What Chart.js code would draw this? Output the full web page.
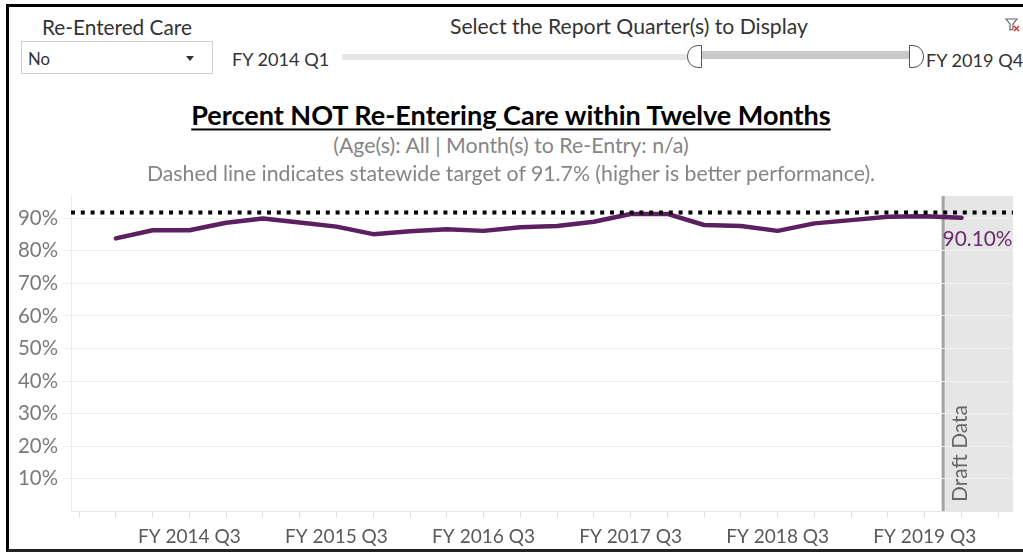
<!DOCTYPE html>
<html>
<head>
<meta charset="utf-8">
<script src="https://cdn.jsdelivr.net/npm/chart.js@4.4.0/dist/chart.umd.min.js"></script>
<style>
  body { margin: 0; width: 1023px; height: 552px; overflow: hidden; background: #fff; position: relative; font-family: Lato, sans-serif; }
  .abs { position: absolute; white-space: nowrap; line-height: 1; }
  #frame { position: absolute; left: 6px; top: 4px; width: 1100px; height: 542px; border-left: 3px solid #000; border-top: 3px solid #000; border-bottom: 3px solid #222; }
  #dropdown { position: absolute; left: 21px; top: 41px; width: 190px; height: 31px; border: 1px solid #cfcfcf; background: #fff; }
  #arrow { position: absolute; left: 186px; top: 56px; width: 0; height: 0; border-left: 4px solid transparent; border-right: 4px solid transparent; border-top: 5px solid #333; }
  #trackLight { position: absolute; left: 342px; top: 54px; width: 350px; height: 6px; background: #e6e6e6; }
  #trackDark { position: absolute; left: 700px; top: 51px; width: 212px; height: 8px; background: #c9c9c9; }
  .handle { position: absolute; top: 45px; width: 13px; height: 21px; border: 1.5px solid #555; background: #fff; }
  #handleL { left: 687px; border-radius: 11px 0 0 11px; }
  #handleR { left: 909px; border-radius: 0 11px 11px 0; }
  #chart { position: absolute; left: 0; top: 186px; }
</style>
</head>
<body>
<div id="frame"></div>
<div id="dropdown"></div>
<div id="arrow"></div>
<div id="trackLight"></div>
<div id="trackDark"></div>
<div class="handle" id="handleL"></div>
<div class="handle" id="handleR"></div>
<svg style="position:absolute;left:1005px;top:17px" width="16" height="16" viewBox="0 0 16 16">
  <path d="M1 2 H12 L8 7 V12 L5 13 V7 Z" fill="none" stroke="#666" stroke-width="1.2"/>
  <path d="M9 9 L14 14 M14 9 L9 14" stroke="#d33" stroke-width="1.5"/>
</svg>
<canvas id="chart" width="1023" height="366"></canvas>
<script>
const quarterLabels = [
  'FY 2014 Q1', 'FY 2014 Q2', 'FY 2014 Q3', 'FY 2014 Q4',
  'FY 2015 Q1', 'FY 2015 Q2', 'FY 2015 Q3', 'FY 2015 Q4',
  'FY 2016 Q1', 'FY 2016 Q2', 'FY 2016 Q3', 'FY 2016 Q4',
  'FY 2017 Q1', 'FY 2017 Q2', 'FY 2017 Q3', 'FY 2017 Q4',
  'FY 2018 Q1', 'FY 2018 Q2', 'FY 2018 Q3', 'FY 2018 Q4',
  'FY 2019 Q1', 'FY 2019 Q2', 'FY 2019 Q3', 'FY 2019 Q4'
];
const pctNotReentering = [
  83.8, 86.3, 86.3, 88.6,
  89.9, 88.7, 87.4, 85.1,
  86.0, 86.6, 86.1, 87.2,
  87.6, 88.9, 91.3, 91.3,
  87.9, 87.6, 86.1, 88.4,
  89.4, 90.4, 90.6, 90.1
];
const xTickLabels = ['FY 2014 Q3', 'FY 2015 Q3', 'FY 2016 Q3', 'FY 2017 Q3', 'FY 2018 Q3', 'FY 2019 Q3'];
const yTickValues = [10, 20, 30, 40, 50, 60, 70, 80, 90];
const targetPct = 91.7;
const lastValueLabel = '90.10%';
const draftLabel = 'Draft Data';
const draftStart = 22.5; // halfway between FY 2019 Q3 and Q4

// axis range as Tableau pads it
const xMin = -1.22, xMax = 24.4;
const yMin = 0, yMax = 96.8;

const measureCtx = document.createElement('canvas').getContext('2d');
function fitSize(text, width, weight) {
  measureCtx.font = (weight || 'normal') + ' 100px Lato';
  return 100 * width / measureCtx.measureText(text).width;
}

function placeText(text, o) {
  const el = document.createElement('div');
  el.className = 'abs';
  el.textContent = text;
  el.style.fontSize = fitSize(text, o.w, o.weight) + 'px';
  el.style.fontWeight = o.weight || 'normal';
  el.style.color = o.color || '#333';
  el.style.top = o.cy + 'px';
  if (o.cx !== undefined) {
    el.style.left = o.cx + 'px';
    el.style.transform = 'translate(-50%, -50%)';
  } else {
    el.style.left = o.left + 'px';
    el.style.transform = 'translateY(-50%)';
  }
  if (o.underline) {
    el.style.textDecoration = 'underline';
    el.style.textDecorationThickness = '2px';
    el.style.textUnderlineOffset = '3px';
  }
  document.body.appendChild(el);
}

placeText('Re-Entered Care', { left: 42, cy: 27, w: 150 });
placeText('Select the Report Quarter(s) to Display', { left: 450, cy: 27, w: 358 });
placeText('No', { left: 28, cy: 59, w: 22 });
placeText('FY 2014 Q1', { left: 232, cy: 59, w: 98 });
placeText('FY 2019 Q4', { left: 926, cy: 60, w: 98 });
placeText('Percent NOT Re-Entering Care within Twelve Months', { cx: 511, cy: 115, w: 642, weight: 'bold', color: '#000', underline: true });
placeText('(Age(s): All | Month(s) to Re-Entry:  n/a)', { cx: 511, cy: 146, w: 362, color: '#858585' });
placeText('Dashed line indicates statewide target of 91.7% (higher is better performance).', { cx: 511, cy: 174, w: 730, color: '#858585' });

const yFontSize = fitSize('90%', 40);
const xFontSize = fitSize('FY 2014 Q3', 103);
const labelFontSize = fitSize(lastValueLabel, 70);
const draftFontSize = fitSize(draftLabel, 97);

const draftBand = {
  id: 'draftBand',
  beforeDraw(chart) {
    const { ctx, chartArea, scales } = chart;
    const x0 = scales.x.getPixelForValue(draftStart);
    ctx.save();
    ctx.fillStyle = '#e6e6e6';
    ctx.fillRect(x0, chartArea.top, chartArea.right - x0, chartArea.bottom - chartArea.top);
    ctx.strokeStyle = '#a3a3a3';
    ctx.lineWidth = 3;
    ctx.beginPath();
    ctx.moveTo(x0, chartArea.top);
    ctx.lineTo(x0, chartArea.bottom);
    ctx.stroke();
    ctx.restore();
  },
  afterDatasetsDraw(chart) {
    const { ctx, chartArea, scales } = chart;
    const x0 = scales.x.getPixelForValue(draftStart);
    ctx.save();
    ctx.translate(x0 + 17, chartArea.bottom - 58);
    ctx.rotate(-Math.PI / 2);
    ctx.fillStyle = '#666';
    ctx.font = draftFontSize + 'px Lato';
    ctx.textAlign = 'center';
    ctx.textBaseline = 'middle';
    ctx.fillText(draftLabel, 0, 0);
    ctx.restore();

    const last = pctNotReentering.length - 1;
    ctx.save();
    ctx.fillStyle = '#6a2d6d';
    ctx.font = labelFontSize + 'px Lato';
    ctx.textAlign = 'center';
    ctx.textBaseline = 'middle';
    ctx.fillText(lastValueLabel, scales.x.getPixelForValue(last) + 16, scales.y.getPixelForValue(pctNotReentering[last]) + 21);
    ctx.restore();
  }
};

new Chart(document.getElementById('chart').getContext('2d'), {
  type: 'line',
  data: {
    datasets: [{
      label: 'Target',
      data: [{ x: xMin, y: targetPct }, { x: xMax, y: targetPct }],
      borderColor: '#000',
      borderWidth: 4,
      borderDash: [4, 5.8],
      borderCapStyle: 'butt',
      pointRadius: 0
    }, {
      label: 'Percent NOT Re-Entering Care',
      data: pctNotReentering.map((v, i) => ({ x: i, y: v })),
      borderColor: '#5c1f60',
      borderWidth: 4.5,
      borderJoinStyle: 'round',
      borderCapStyle: 'round',
      tension: 0,
      pointRadius: 0
    }]
  },
  options: {
    responsive: false,
    animation: false,
    layout: { padding: { top: 10, right: 10, left: 0, bottom: 0 } },
    plugins: {
      legend: { display: false },
      tooltip: { enabled: false }
    },
    scales: {
      x: {
        type: 'linear',
        min: xMin,
        max: xMax,
        afterBuildTicks: scale => {
          scale.ticks = [];
          for (let i = -1; i <= 24; i++) scale.ticks.push({ value: i });
        },
        afterFit: scale => {
          scale.height = 40.5;
          scale.paddingLeft = 0;
          scale.paddingRight = 0;
        },
        grid: { drawOnChartArea: false, tickLength: 6, color: '#dddddd' },
        border: { color: '#e6e6e6' },
        ticks: {
          autoSkip: false,
          maxRotation: 0,
          padding: 8,
          color: '#5a5a5a',
          font: { family: 'Lato', size: xFontSize },
          callback: value => {
            const lbl = quarterLabels[value];
            return xTickLabels.includes(lbl) ? lbl : '';
          }
        }
      },
      y: {
        min: yMin,
        max: yMax,
        afterBuildTicks: scale => { scale.ticks = yTickValues.map(v => ({ value: v })); },
        afterFit: scale => {
          scale.width = 71;
          scale.paddingTop = 0;
          scale.paddingBottom = 0;
        },
        grid: { color: '#f0f0f0', tickLength: 8, tickColor: '#eeeeee' },
        border: { color: '#ececec' },
        ticks: {
          padding: 5,
          color: '#7a7a7a',
          font: { family: 'Lato', size: yFontSize },
          callback: v => v + '%'
        }
      }
    }
  },
  plugins: [draftBand]
});
</script>
</body>
</html>
